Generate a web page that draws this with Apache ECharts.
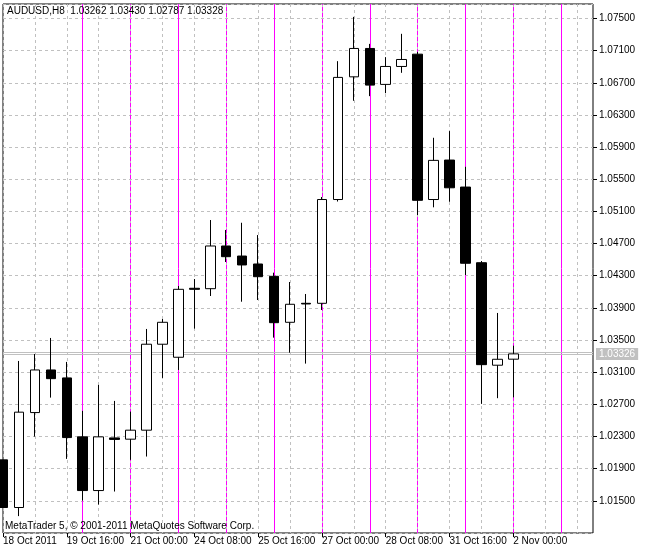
<!DOCTYPE html>
<html><head><meta charset="utf-8">
<script src="https://cdn.jsdelivr.net/npm/echarts@6/dist/echarts.min.js"></script>
<style>html,body{margin:0;padding:0;background:#fff}#c{width:646px;height:554px}</style>
</head><body><div id="c"></div>
<script>
const headerText = 'AUDUSD,H8  1.03262 1.03430 1.02787 1.03328';
const footerText = 'MetaTrader 5, \u00a9 2001-2011 MetaQuotes Software Corp.';

const categories = [
  '2011.10.18 08:00','2011.10.18 16:00','2011.10.19 00:00','2011.10.19 08:00','2011.10.19 16:00',
  '2011.10.20 00:00','2011.10.20 08:00','2011.10.20 16:00','2011.10.21 00:00','2011.10.21 08:00',
  '2011.10.21 16:00','2011.10.24 00:00','2011.10.24 08:00','2011.10.24 16:00','2011.10.25 00:00',
  '2011.10.25 08:00','2011.10.25 16:00','2011.10.26 00:00','2011.10.26 08:00','2011.10.26 16:00',
  '2011.10.27 00:00','2011.10.27 08:00','2011.10.27 16:00','2011.10.28 00:00','2011.10.28 08:00',
  '2011.10.28 16:00','2011.10.31 00:00','2011.10.31 08:00','2011.10.31 16:00','2011.11.01 00:00',
  '2011.11.01 08:00','2011.11.01 16:00','2011.11.02 00:00','2011.11.02 08:00','2011.11.02 16:00',
  '2011.11.03 00:00','2011.11.03 08:00','2011.11.03 16:00'
];

const opens  = [1.02010,1.01417,1.02598,1.03128,1.03029,1.02296,1.01628,1.02283,1.02267,1.02379,1.03448,1.03286,1.04144,1.04139,1.04670,1.04545,1.04446,1.04293,1.03721,1.03957,1.03957,1.05248,1.06774,1.07127,1.06680,1.06903,1.07056,1.05248,1.05739,1.05403,1.04462,1.03187,1.03262];
const highs  = [1.02010,1.03240,1.03327,1.03526,1.03228,1.02619,1.02942,1.02743,1.02610,1.03638,1.03762,1.04172,1.04259,1.04993,1.04869,1.04959,1.04806,1.04338,1.04222,1.04073,1.05279,1.06969,1.07520,1.07184,1.07019,1.07309,1.07085,1.06016,1.06099,1.05655,1.04483,1.03837,1.03430];
const lows   = [1.01417,1.01310,1.02299,1.02784,1.02022,1.01504,1.01454,1.01616,1.02010,1.02051,1.03029,1.03128,1.03642,1.04048,1.04471,1.03977,1.03998,1.03530,1.03343,1.03207,1.03874,1.05223,1.06476,1.06534,1.06571,1.06824,1.05055,1.05151,1.05220,1.04309,1.02706,1.02777,1.02787];
const closes = [1.01417,1.02603,1.03128,1.03020,1.02287,1.01628,1.02296,1.02264,1.02379,1.03448,1.03721,1.04131,1.04131,1.04670,1.04537,1.04434,1.04288,1.03716,1.03945,1.03949,1.05248,1.06767,1.07127,1.06671,1.06903,1.06990,1.05238,1.05735,1.05394,1.04455,1.03194,1.03261,1.03328];

const xTickCategories = ['2011.10.18 08:00','2011.10.19 16:00','2011.10.21 00:00','2011.10.24 08:00','2011.10.25 16:00','2011.10.27 00:00','2011.10.28 08:00','2011.10.31 16:00','2011.11.02 00:00'];
const xTickLabels = ['18 Oct 2011','19 Oct 16:00','21 Oct 00:00','24 Oct 08:00','25 Oct 16:00','27 Oct 00:00','28 Oct 08:00','31 Oct 16:00','2 Nov 00:00'];

const yTickValues = [1.01500,1.01900,1.02300,1.02700,1.03100,1.03500,1.03900,1.04300,1.04700,1.05100,1.05500,1.05900,1.06300,1.06700,1.07100,1.07500];
const yAxisMin = 1.011;
const yAxisMax = 1.0768;

const daySeparatorsSolid = ['2011.10.20 00:00','2011.10.24 00:00','2011.10.26 00:00','2011.10.28 00:00','2011.11.01 00:00','2011.11.03 00:00'];
const daySeparatorsDashed = ['2011.10.21 00:00','2011.10.25 00:00','2011.10.27 00:00','2011.10.31 00:00','2011.11.02 00:00'];

const bidPrice = 1.03326;
const askPrice = 1.03349;

const FONT = '"Liberation Sans", Arial, sans-serif';
const FS = 10;
const candleData = opens.map((o, i) => [o, closes[i], lows[i], highs[i]]);
const yInterval = Math.round((yTickValues[1] - yTickValues[0]) * 1e6) / 1e6;
const labelMap = {};
xTickCategories.forEach((c, i) => { labelMap[c] = xTickLabels[i]; });
const isXTick = (idx) => labelMap[categories[idx]] !== undefined;

const chart = echarts.init(document.getElementById('c'), null, {renderer: 'canvas'});
chart.setOption({
  animation: false,
  backgroundColor: '#fff',
  grid: {left: 2, top: 4, right: 53, bottom: 21, show: true, borderColor: '#000', borderWidth: 1, backgroundColor: 'transparent'},
  xAxis: {
    type: 'category', data: categories, boundaryGap: false,
    axisLine: {show: false},
    axisTick: {show: true, length: 4, interval: (i) => isXTick(i), lineStyle: {color: '#000'}},
    axisLabel: {show: true, interval: (i) => isXTick(i), formatter: (v) => labelMap[v] || '', align: 'left', margin: 3, color: '#000', fontFamily: FONT, fontSize: FS},
    splitLine: {show: true, interval: 1, lineStyle: {color: '#c0c0c0', type: [3, 3], width: 1}}
  },
  yAxis: {
    type: 'value', position: 'right', scale: true, min: yAxisMin, max: yAxisMax, interval: yInterval,
    axisLine: {show: false},
    axisTick: {show: true, length: 4, lineStyle: {color: '#000'}},
    axisLabel: {show: true, showMinLabel: false, showMaxLabel: false, margin: 6, color: '#000', fontFamily: FONT, fontSize: FS,
      formatter: (v) => yTickValues.some(t => Math.abs(t - v) < 1e-7) ? v.toFixed(5) : ''},
    splitLine: {show: true, lineStyle: {color: '#c0c0c0', type: [3, 3], width: 1}}
  },
  graphic: [
    {type: 'text', left: 7, top: 6, z: 10, style: {text: headerText, font: FS + 'px ' + FONT, fill: '#000'}},
    {type: 'text', left: 5, top: 521, z: 10, style: {text: footerText, font: FS + 'px ' + FONT, fill: '#000'}}
  ],
  series: [
    {
      type: 'line', data: [], z: 1, silent: true,
      markLine: {
        z: 1, silent: true, symbol: ['none', 'none'], animation: false, label: {show: false},
        data: daySeparatorsSolid.map(c => ({xAxis: c, lineStyle: {color: '#ff00ff', type: 'solid', width: 1}}))
          .concat(daySeparatorsDashed.map(c => ({xAxis: c, lineStyle: {color: '#ff00ff', type: [4, 2], width: 1}})))
      }
    },
    {
      type: 'line', data: [], z: 2, silent: true,
      markLine: {
        z: 2, silent: true, symbol: ['none', 'none'], animation: false, precision: 5,
        data: [
          {yAxis: askPrice, lineStyle: {color: '#c0c0c0', type: 'solid', width: 1}, label: {show: false}},
          {yAxis: bidPrice, lineStyle: {color: '#c0c0c0', type: 'solid', width: 1},
           label: {show: true, position: 'end', distance: 3, formatter: (p) => Number(p.value).toFixed(5), color: '#fff', backgroundColor: '#c0c0c0',
                   padding: [1, 3, 0, 3], lineHeight: 11, fontFamily: FONT, fontSize: FS}}
        ]
      }
    },
    {
      type: 'candlestick', z: 3, data: candleData, barWidth: 10, clip: true,
      itemStyle: {color: '#fff', color0: '#000', borderColor: '#000', borderColor0: '#000', borderColorDoji: '#000', borderWidth: 1}
    }
  ]
});
</script></body></html>
